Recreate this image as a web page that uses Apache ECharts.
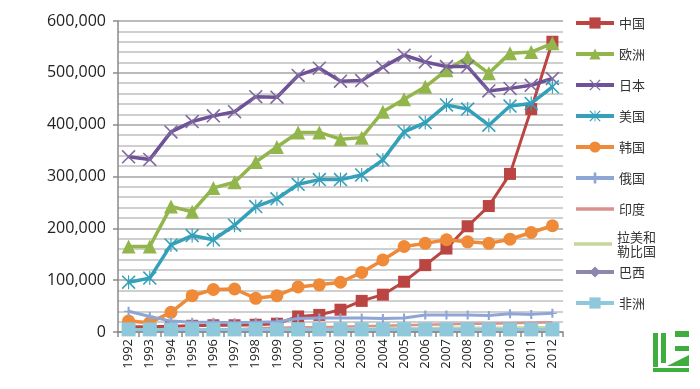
<!DOCTYPE html>
<html>
<head>
<meta charset="utf-8">
<script src="https://cdn.jsdelivr.net/npm/echarts@6/dist/echarts.min.js"></script>
<style>html,body{margin:0;padding:0;background:#fff}#c{width:700px;height:389px}</style>
</head>
<body>
<div id="c"></div>
<script>
var years = ['1992','1993','1994','1995','1996','1997','1998','1999','2000','2001','2002','2003','2004','2005','2006','2007','2008','2009','2010','2011','2012'];
var yTicks = [0, 100000, 200000, 300000, 400000, 500000, 600000];
var seriesNames = ['中国','欧洲','日本','美国','韩国','俄国','印度','拉美和勒比国','巴西','非洲'];

var china  = [10000,10000,11000,12000,13000,13000,14000,16000,30000,33000,43000,60000,72000,97000,129000,161000,204000,243000,305000,430000,560000];
var europe = [165000,165000,242000,232000,278000,289000,328000,357000,385000,385000,372000,375000,425000,449000,473000,505000,530000,499000,538000,540000,557000];
var japan  = [338000,333000,386000,406000,417000,425000,454000,453000,495000,509000,484000,485000,511000,534000,521000,512000,512000,465000,470000,476000,489000];
var usa    = [96000,104000,168000,186000,178000,206000,242000,257000,285000,294000,294000,303000,332000,386000,404000,438000,430000,399000,436000,441000,473000];
var korea  = [21000,18000,38000,70000,82000,83000,65000,70000,87000,91000,96000,115000,139000,165000,171000,178000,174000,171000,179000,192000,205000];
var russia = [40000,30000,21000,19000,19000,18000,19000,20000,26000,27000,27000,27000,26000,27000,33000,33000,33000,32000,35000,34000,36000];
var india  = [3000,3000,4000,4000,5000,5000,7000,8000,9000,9000,10000,11000,12000,13000,14000,15000,16000,16000,17000,18000,19000];
var latam  = [4000,4000,4000,5000,5000,5000,5000,6000,6000,6000,6000,6000,7000,7000,7000,8000,8000,8000,8000,9000,9000];
var brazil = [3000,3000,3000,3000,3000,3000,3000,4000,4000,4000,4000,4000,4000,4000,4000,4000,4000,4000,5000,5000,5000];
var africa = [5000,5000,5000,5000,5000,5000,5000,5000,5000,5000,5000,5000,5000,5000,5000,5000,5000,5000,5000,5000,5000];

var seriesData = [china, europe, japan, usa, korea, russia, india, latam, brazil, africa];

var xPath = 'path://M0,0.8L0.8,0L10,9.2L9.2,10Z M9.2,0L10,0.8L0.8,10L0,9.2Z';
var starPath = 'path://M0,0.8L0.8,0L10,9.2L9.2,10Z M9.2,0L10,0.8L0.8,10L0,9.2Z M4.6,0L5.4,0L5.4,10L4.6,10Z';
var plusPath = 'path://M4.3,0L5.7,0L5.7,10L4.3,10Z M2,4.3L8,4.3L8,5.7L2,5.7Z';
var linePath = 'path://M0,0L38,0L38,3.5L0,3.5Z';

var styles = [
  {color:'#BB4542', symbol:'rect', size:12, width:3},
  {color:'#93B64C', symbol:'triangle', size:14, width:3.5},
  {color:'#6E5196', symbol:xPath, size:14, width:3.5, markerColor:'#7F6AA0'},
  {color:'#34A0BA', symbol:starPath, size:14, width:3.5},
  {color:'#EE8A38', symbol:'circle', size:13, width:3.5},
  {color:'#8EA6D6', symbol:plusPath, size:9, width:3},
  {color:'#D9908E', symbol:'none', size:0, width:2.5},
  {color:'#C3D69B', symbol:'none', size:0, width:2.5},
  {color:'#8C87AC', symbol:'diamond', size:8, width:2.5},
  {color:'#8FC8DA', symbol:'rect', size:14, width:3}
];

var series = seriesNames.map(function (n, i) {
  var s = styles[i];
  return {
    name: n,
    type: 'line',
    data: seriesData[i],
    symbol: s.symbol,
    symbolSize: s.size,
    showSymbol: s.symbol !== 'none',
    lineStyle: {color: s.color, width: s.width},
    itemStyle: {color: s.markerColor || s.color},
    emphasis: {disabled: true},
    animation: false,
    z: 2 + i
  };
});

var legendCommon = {
  orient: 'vertical',
  left: 574,
  padding: 0,
  itemWidth: 38,
  itemHeight: 14,
  itemGap: 17,
  selectedMode: false,
  lineStyle: {width: 4},
  textStyle: {fontFamily: 'Noto Sans CJK SC', fontSize: 13, color: '#333', lineHeight: 14}
};

function legendItems(names) {
  return names.map(function (n) {
    if (n === '印度' || n === '拉美和勒比国') return {name: n, icon: linePath};
    return {name: n};
  });
}

var option = {
  backgroundColor: '#fff',
  animation: false,
  grid: {left: 118, right: 137, top: 21, bottom: 57, containLabel: false},
  legend: [
    Object.assign({}, legendCommon, {top: 16, data: legendItems(['中国','欧洲','日本','美国','韩国','俄国','印度'])}),
    Object.assign({}, legendCommon, {top: 216, data: legendItems(['拉美和勒比国']),
      formatter: function (n) { return n === '拉美和勒比国' ? '拉美和\n勒比国' : n; },
      textStyle: {fontFamily: 'Noto Sans CJK SC', fontSize: 13, color: '#333', lineHeight: 14, padding: [28, 0, 0, 0]}}),
    Object.assign({}, legendCommon, {top: 265, data: legendItems(['巴西','非洲'])})
  ],
  xAxis: {
    type: 'category',
    data: years,
    boundaryGap: true,
    axisLine: {lineStyle: {color: '#8a8a8a', width: 1.5}},
    axisTick: {show: true, interval: 0, length: 5, lineStyle: {color: '#8a8a8a', width: 1.5}},
    axisLabel: {rotate: 90, interval: 0, margin: 7, fontSize: 13, color: '#222', fontFamily: 'Open Sans'}
  },
  yAxis: {
    type: 'value',
    min: yTicks[0],
    max: yTicks[yTicks.length - 1],
    interval: yTicks[1] - yTicks[0],
    axisLine: {show: true, lineStyle: {color: '#8a8a8a', width: 1.5}},
    axisTick: {show: true, length: 5, lineStyle: {color: '#8a8a8a', width: 1.5}},
    axisLabel: {
      fontSize: 16, color: '#222', fontFamily: 'Open Sans', margin: 12,
      formatter: function (v) { return v.toLocaleString('en-US'); }
    },
    splitLine: {show: true, lineStyle: {color: '#a4a4a4', width: 1.5}},
    minorTick: {show: false, splitNumber: 5},
    minorSplitLine: {show: true, lineStyle: {color: '#c0c0c0', width: 1.5}}
  },
  graphic: [
    {type: 'group', left: 653, top: 331, children: [
      {type: 'rect', shape: {x: 0, y: 2, width: 5, height: 34}, style: {fill: '#3FAE3F'}},
      {type: 'rect', shape: {x: 8, y: 2, width: 5, height: 30}, style: {fill: '#3FAE3F'}},
      {type: 'rect', shape: {x: 22, y: 0, width: 14, height: 6}, style: {fill: '#3FAE3F'}},
      {type: 'rect', shape: {x: 22, y: 15, width: 14, height: 5}, style: {fill: '#3FAE3F'}},
      {type: 'polygon', shape: {points: [[16,34],[36,24],[36,35],[14,35]]}, style: {fill: '#3FAE3F'}},
      {type: 'rect', shape: {x: 0, y: 37, width: 36, height: 4}, style: {fill: '#3FAE3F'}}
    ]}
  ],
  series: series
};

var chart = echarts.init(document.getElementById('c'), null, {renderer: 'canvas'});
chart.setOption(option);
</script>
</body>
</html>
